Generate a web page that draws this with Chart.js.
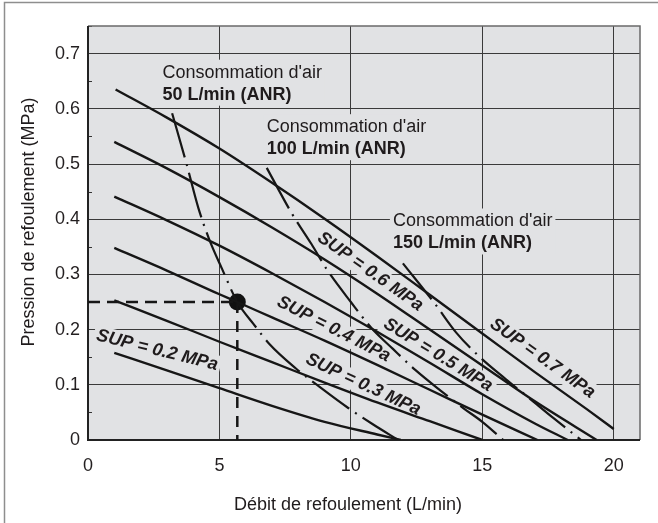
<!DOCTYPE html>
<html><head><meta charset="utf-8">
<script src="https://cdn.jsdelivr.net/npm/chart.js@4.4.1/dist/chart.umd.min.js"></script>
<style>html,body{margin:0;padding:0;background:#fff;}canvas{display:block;}</style>
</head><body>
<canvas id="c" width="658" height="523"></canvas>
<script>
// ---------- data ----------
const xTicks = [0, 5, 10, 15, 20];
const yTicks = [0, 0.1, 0.2, 0.3, 0.4, 0.5, 0.6, 0.7];
const yTickLabels = ['0', '0.1', '0.2', '0.3', '0.4', '0.5', '0.6', '0.7'];
const xTitle = 'Débit de refoulement (L/min)';
const yTitle = 'Pression de refoulement (MPa)';

// SUP (supply pressure) curves: flow (L/min) vs outlet pressure (MPa)
const sup07Flow = [1.05, 3, 5, 7, 9, 11, 13, 15, 17, 19, 20];
const sup07Pres = [0.635, 0.584, 0.528, 0.466, 0.401, 0.333, 0.263, 0.193, 0.123, 0.055, 0.02];
const sup06Flow = [1, 3, 5, 7, 9, 11, 13, 15, 17, 19.35];
const sup06Pres = [0.54, 0.492, 0.44, 0.385, 0.327, 0.265, 0.2, 0.135, 0.07, 0];
const sup05Flow = [1, 3, 5, 7, 9, 11, 13, 15, 17, 18.25];
const sup05Pres = [0.441, 0.398, 0.352, 0.302, 0.25, 0.196, 0.14, 0.083, 0.03, 0];
const sup04Flow = [1, 3, 5, 5.68, 7, 9, 11, 13, 15, 17.1];
const sup04Pres = [0.348, 0.307, 0.264, 0.25, 0.222, 0.18, 0.136, 0.091, 0.046, 0];
const sup03Flow = [1, 3, 5, 7, 9, 11, 13, 15];
const sup03Pres = [0.253, 0.216, 0.178, 0.141, 0.104, 0.068, 0.034, 0];
const sup02Flow = [1, 3, 5, 7, 9, 11, 11.9];
const sup02Pres = [0.158, 0.126, 0.094, 0.062, 0.033, 0.01, 0];

// Air consumption curves
const air50Flow = [3.2, 3.75, 4.2, 4.6, 5.1, 5.68, 6.3, 6.9, 7.9, 8.9, 9.9, 10.85, 11.8];
const air50Pres = [0.592, 0.5, 0.42, 0.365, 0.31, 0.25, 0.21, 0.174, 0.13, 0.093, 0.058, 0.028, 0];
const air100Flow = [6.8, 7.76, 8.5, 9.1, 10, 10.8, 11.6, 12.45, 13.4, 14.3, 15.0, 15.8];
const air100Pres = [0.493, 0.41, 0.355, 0.308, 0.25, 0.202, 0.165, 0.127, 0.09, 0.057, 0.033, 0];
const air150Flow = [11.98, 13.18, 14.0, 14.89, 15.9, 16.73, 17.7, 18.76];
const air150Pres = [0.32, 0.248, 0.195, 0.151, 0.11, 0.078, 0.04, 0];

// Reading example point
const refFlow = [5.68];
const refPres = [0.25];

const supLabelTexts = ['SUP = 0.2 MPa', 'SUP = 0.3 MPa', 'SUP = 0.4 MPa', 'SUP = 0.5 MPa', 'SUP = 0.6 MPa', 'SUP = 0.7 MPa'];
const airLabelLine1 = ["Consommation d'air", "Consommation d'air", "Consommation d'air"];
const airLabelLine2 = ['50 L/min (ANR)', '100 L/min (ANR)', '150 L/min (ANR)'];

// ---------- layout / styles (label anchors in axis units) ----------
const supLabelPos = [
  {x: 2.63, y: 0.1625, a: 14},
  {x: 10.47, y: 0.1005, a: 25},
  {x: 9.35, y: 0.2007, a: 27},
  {x: 13.32, y: 0.154, a: 31.5},
  {x: 10.74, y: 0.305, a: 35},
  {x: 17.29, y: 0.148, a: 35.5}
];
const airLabelPos = [
  {x: 2.83, y: 0.6564},
  {x: 6.80, y: 0.5576},
  {x: 11.60, y: 0.3868}
];

const FONT = "'Liberation Sans', Arial, Helvetica, sans-serif";
const PLOT_BG = '#e1e2e4';
const INK = '#161616';

function pts(xs, ys) { return xs.map((v, i) => ({x: v, y: ys[i]})); }
function solid(xs, ys) {
  return {data: pts(xs, ys), borderColor: INK, borderWidth: 2.4, pointRadius: 0,
    showLine: true, fill: false, cubicInterpolationMode: 'monotone'};
}
function dashDot(xs, ys) {
  return {data: pts(xs, ys), borderColor: INK, borderWidth: 2.2, pointRadius: 0,
    showLine: true, fill: false, cubicInterpolationMode: 'monotone', borderDash: [46, 7, 2, 7]};
}

const datasets = [
  solid(sup07Flow, sup07Pres), solid(sup06Flow, sup06Pres), solid(sup05Flow, sup05Pres),
  solid(sup04Flow, sup04Pres), solid(sup03Flow, sup03Pres), solid(sup02Flow, sup02Pres),
  dashDot(air50Flow, air50Pres), dashDot(air100Flow, air100Pres), dashDot(air150Flow, air150Pres),
  {data: [{x: 0, y: refPres[0]}, {x: refFlow[0], y: refPres[0]}], borderColor: INK, borderWidth: 2.5,
   borderDash: [12, 7], pointRadius: 0, showLine: true, fill: false, tension: 0},
  {data: [{x: refFlow[0], y: refPres[0]}, {x: refFlow[0], y: 0}], borderColor: INK, borderWidth: 2.5,
   borderDash: [11, 8], pointRadius: 0, showLine: true, fill: false, tension: 0},
  {data: pts(refFlow, refPres), pointRadius: 8.5, pointBackgroundColor: '#111', pointBorderWidth: 0,
   showLine: false}
];

const decor = {
  id: 'decor',
  beforeDraw(chart) {
    const {ctx, chartArea: a} = chart;
    ctx.save();
    ctx.fillStyle = '#fff';
    ctx.fillRect(0, 0, chart.width, chart.height);
    ctx.fillStyle = PLOT_BG;
    ctx.fillRect(a.left, a.top, a.right - a.left, a.bottom - a.top);
    ctx.strokeStyle = '#8e8e8e';
    ctx.lineWidth = 1.5;
    ctx.beginPath();
    ctx.moveTo(4.5, chart.height); ctx.lineTo(4.5, 2.5); ctx.lineTo(chart.width, 2.5);
    ctx.stroke();
    ctx.restore();
  },
  beforeDatasetsDraw(chart) {
    const {ctx, chartArea: a, scales: {x, y}} = chart;
    ctx.save();
    ctx.fillStyle = PLOT_BG;
    airLabelPos.forEach((p, i) => {
      const px = x.getPixelForValue(p.x), py = y.getPixelForValue(p.y);
      ctx.font = `18px ${FONT}`;
      const w1 = ctx.measureText(airLabelLine1[i]).width;
      ctx.font = `bold 18px ${FONT}`;
      const w2 = ctx.measureText(airLabelLine2[i]).width;
      const w = Math.max(w1, w2);
      ctx.fillRect(px - 3, py - 18, w + 6, 18 + 22 + 6);
    });
    ctx.font = `italic bold 18px ${FONT}`;
    supLabelPos.forEach((p, i) => {
      const px = x.getPixelForValue(p.x), py = y.getPixelForValue(p.y);
      const w = ctx.measureText(supLabelTexts[i]).width;
      ctx.save();
      ctx.translate(px, py);
      ctx.rotate(p.a * Math.PI / 180);
      ctx.fillRect(-w / 2 - 3, -10, w + 6, 20);
      ctx.restore();
    });
    ctx.strokeStyle = '#333';
    ctx.lineWidth = 1;
    for (let i = 0; i < yTicks.length; i++) {
      const v = yTicks[i] + 0.05;
      const py = Math.round(y.getPixelForValue(v)) + 0.5;
      ctx.beginPath(); ctx.moveTo(a.left, py); ctx.lineTo(a.left + 4, py); ctx.stroke();
    }
    ctx.strokeStyle = '#6a6a6a';
    ctx.lineWidth = 1.5;
    ctx.beginPath();
    ctx.moveTo(a.left, a.top); ctx.lineTo(a.right, a.top); ctx.lineTo(a.right, a.bottom);
    ctx.stroke();
    ctx.strokeStyle = '#222';
    ctx.lineWidth = 2;
    ctx.beginPath();
    ctx.moveTo(a.left, a.top); ctx.lineTo(a.left, a.bottom); ctx.lineTo(a.right, a.bottom);
    ctx.stroke();
    ctx.restore();
  },
  afterDatasetsDraw(chart) {
    const {ctx, scales: {x, y}} = chart;
    ctx.save();
    ctx.fillStyle = '#1f1b1c';
    ctx.textAlign = 'left';
    ctx.textBaseline = 'alphabetic';
    airLabelPos.forEach((p, i) => {
      const px = x.getPixelForValue(p.x), py = y.getPixelForValue(p.y);
      ctx.font = `18px ${FONT}`;
      ctx.fillText(airLabelLine1[i], px, py);
      ctx.font = `bold 18px ${FONT}`;
      ctx.fillText(airLabelLine2[i], px, py + 22);
    });
    ctx.font = `italic bold 18px ${FONT}`;
    ctx.textAlign = 'center';
    ctx.textBaseline = 'middle';
    supLabelPos.forEach((p, i) => {
      const px = x.getPixelForValue(p.x), py = y.getPixelForValue(p.y);
      ctx.save();
      ctx.translate(px, py);
      ctx.rotate(p.a * Math.PI / 180);
      ctx.fillText(supLabelTexts[i], 0, 0);
      ctx.restore();
    });
    ctx.font = `18px ${FONT}`;
    ctx.textBaseline = 'alphabetic';
    ctx.textAlign = 'center';
    ctx.fillText(xTitle, 348, 510);
    ctx.save();
    ctx.translate(33.5, 222);
    ctx.rotate(-Math.PI / 2);
    ctx.fillText(yTitle, 0, 0);
    ctx.restore();
    ctx.restore();
  }
};

new Chart(document.getElementById('c'), {
  type: 'scatter',
  data: {datasets},
  options: {
    responsive: false,
    animation: false,
    devicePixelRatio: 1,
    events: [],
    layout: {padding: {top: 26, right: 18, left: 0, bottom: 0}},
    plugins: {legend: {display: false}, tooltip: {enabled: false}},
    elements: {line: {borderCapStyle: 'butt'}},
    scales: {
      x: {
        type: 'linear', min: 0, max: 21,
        afterBuildTicks: s => { s.ticks = xTicks.map(v => ({value: v})); },
        afterFit: s => { s.height = 83; },
        border: {display: false},
        grid: {drawTicks: false, lineWidth: 1,
          color: c => (c.tick && c.tick.value > 0) ? '#3a3a3a' : 'rgba(0,0,0,0)'},
        ticks: {padding: 15, color: '#231f20', font: {family: FONT, size: 18},
          maxRotation: 0, autoSkip: false, callback: v => String(v)}
      },
      y: {
        type: 'linear', min: 0, max: 0.75,
        afterBuildTicks: s => { s.ticks = yTicks.map(v => ({value: v})); },
        afterFit: s => { s.width = 88; },
        border: {display: false},
        grid: {drawTicks: false, lineWidth: 1,
          color: c => (c.tick && c.tick.value > 0) ? '#3a3a3a' : 'rgba(0,0,0,0)'},
        ticks: {padding: 8, color: '#231f20', font: {family: FONT, size: 18}, autoSkip: false,
          callback: v => yTickLabels[yTicks.findIndex(t => Math.abs(t - v) < 1e-9)]}
      }
    }
  },
  plugins: [decor]
});
</script>
</body></html>
